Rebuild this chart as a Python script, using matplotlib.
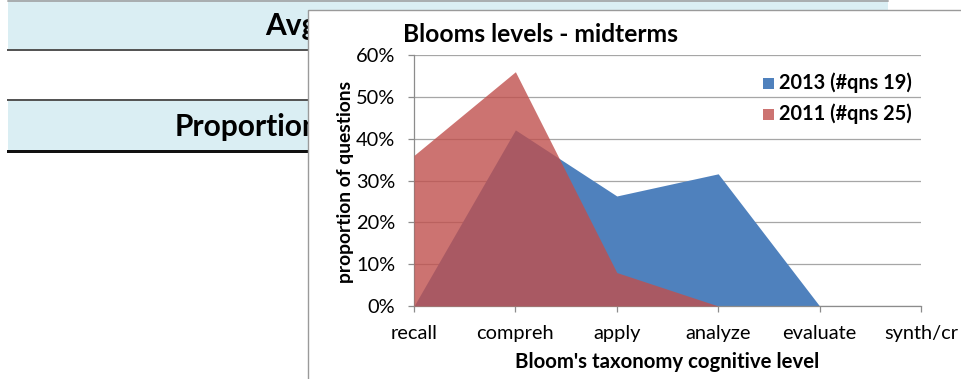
import matplotlib
matplotlib.use("Agg")
import matplotlib.pyplot as plt
from matplotlib.patches import Rectangle, Patch
from matplotlib.lines import Line2D
from matplotlib.transforms import Bbox

# ---- data ----
categories = ["recall", "compreh", "apply", "analyze", "evaluate", "synth/cr"]
series_2013 = [0.0, 0.421, 0.263, 0.316, 0.0, 0.0]
series_2011 = [0.36, 0.56, 0.08, 0.0, 0.0, 0.0]
label_2013 = "2013 (#qns 19)"
label_2011 = "2011 (#qns 25)"
y_ticks = [0.0, 0.1, 0.2, 0.3, 0.4, 0.5, 0.6]
y_tick_labels = ["0%", "10%", "20%", "30%", "40%", "50%", "60%"]
title = "Blooms levels - midterms"
x_label = "Bloom's taxonomy cognitive level"
y_label = "proportion of questions"
bg_text_1 = "Avg"
bg_text_2 = "Proportion"

W, H = 961, 379
DPI = 100
FAM = "Lato"
BLUE = "#4F81BD"
RED = "#C0504D"

fig = plt.figure(figsize=(W / DPI, H / DPI), dpi=DPI)
fig.patch.set_facecolor("white")
renderer = fig.canvas.get_renderer()


def fx(px):
    return px / W


def fy(py):
    return 1 - py / H


def fit(s, target_px, weight="normal", rot=0):
    t = fig.text(0, 0, s, fontsize=10, fontweight=weight, family=FAM, rotation=rot)
    bb = t.get_window_extent(renderer)
    t.remove()
    size = bb.height if rot else bb.width
    return 10 * target_px / size


# ---- spreadsheet background ----
band = "#DAEEF3"
fig.patches.append(Rectangle((fx(8), fy(49)), fx(880), 49 / H, transform=fig.transFigure,
                             facecolor=band, edgecolor="none", zorder=0.1))
fig.patches.append(Rectangle((fx(8), fy(150)), fx(880), 49 / H, transform=fig.transFigure,
                             facecolor=band, edgecolor="none", zorder=0.1))
for ypx, lw, col in [(0.5, 1.5, "#9a9a9a"), (50, 2.0, "#555555"), (100, 2.0, "#555555"), (151, 3.0, "#111111")]:
    fig.lines.append(Line2D([fx(8), fx(888)], [fy(ypx), fy(ypx)], transform=fig.transFigure,
                            color=col, lw=lw * 0.72, zorder=0.2))

clip = Bbox([[0, 0], [308, H]])
fs_bg = fit("Proportio", 128, "bold")
t1 = fig.text(fx(265), fy(26), bg_text_1, fontsize=fs_bg, fontweight="bold", family=FAM,
              va="center", ha="left", zorder=0.3)
t1.set_clip_box(clip)
t1.set_clip_on(True)
t2 = fig.text(fx(175), fy(127), bg_text_2, fontsize=fs_bg, fontweight="bold", family=FAM,
              va="center", ha="left", zorder=0.3)
t2.set_clip_box(clip)
t2.set_clip_on(True)

# ---- chart area ----
fig.patches.append(Rectangle((fx(308), -0.1), 1.0, fy(10) + 0.1, transform=fig.transFigure,
                             facecolor="white", edgecolor="#9a9a9a", lw=1.0, zorder=0.5))

ax = fig.add_axes([fx(414), fy(306), fx(921 - 414), (306 - 55) / H], zorder=1)
ax.set_facecolor("none")
x = list(range(len(categories)))
ax.fill_between(x, 0, series_2013, color=BLUE, lw=0, zorder=2)
ax.fill_between(x, 0, series_2011, color=RED, alpha=0.8, lw=0, zorder=3)
ax.set_xlim(0, len(categories) - 1)
ax.set_ylim(0, 0.6)
ax.set_yticks(y_ticks)
ax.set_xticks(x)
fs_tick = fit("compreh", 78)
ax.set_yticklabels(y_tick_labels, fontsize=fs_tick, family=FAM)
ax.set_xticklabels(categories, fontsize=fs_tick, family=FAM)
ax.set_axisbelow(True)
ax.grid(axis="y", color="#A6A6A6", lw=0.9)
for s in ["top", "right"]:
    ax.spines[s].set_visible(False)
for s in ["left", "bottom"]:
    ax.spines[s].set_color("#8c8c8c")
    ax.spines[s].set_linewidth(0.9)
ax.tick_params(axis="x", direction="out", length=4.5, width=0.9, color="#8c8c8c", pad=9)
ax.tick_params(axis="y", direction="out", length=4.5, width=0.9, color="#8c8c8c", pad=9)
for lab in ax.get_xticklabels() + ax.get_yticklabels():
    lab.set_clip_on(False)

fig.text(fx(403), fy(34), title, fontsize=fit(title, 276, "bold"), fontweight="bold",
         family=FAM, ha="left", va="center")
fig.text(fx(667), fy(362), x_label, fontsize=fit(x_label, 305, "bold"), fontweight="bold",
         family=FAM, ha="center", va="center")
fig.text(fx(345), fy(182), y_label, fontsize=fit(y_label, 203, "bold", rot=90), fontweight="bold",
         family=FAM, ha="center", va="center", rotation=90)

# legend
fs_leg = fit(label_2013, 133, "bold")
for i, (lab, col) in enumerate([(label_2013, BLUE), (label_2011, RED)]):
    yc = 83 + 31 * i
    fig.patches.append(Rectangle((fx(763), fy(yc + 5.5)), fx(11), 11 / H, transform=fig.transFigure,
                                 facecolor=col, alpha=1.0 if i == 0 else 0.8, edgecolor="none", zorder=2))
    fig.text(fx(779), fy(yc), lab, fontsize=fs_leg, fontweight="bold", family=FAM,
             ha="left", va="center", zorder=2)

fig.savefig("out.png", dpi=DPI)
